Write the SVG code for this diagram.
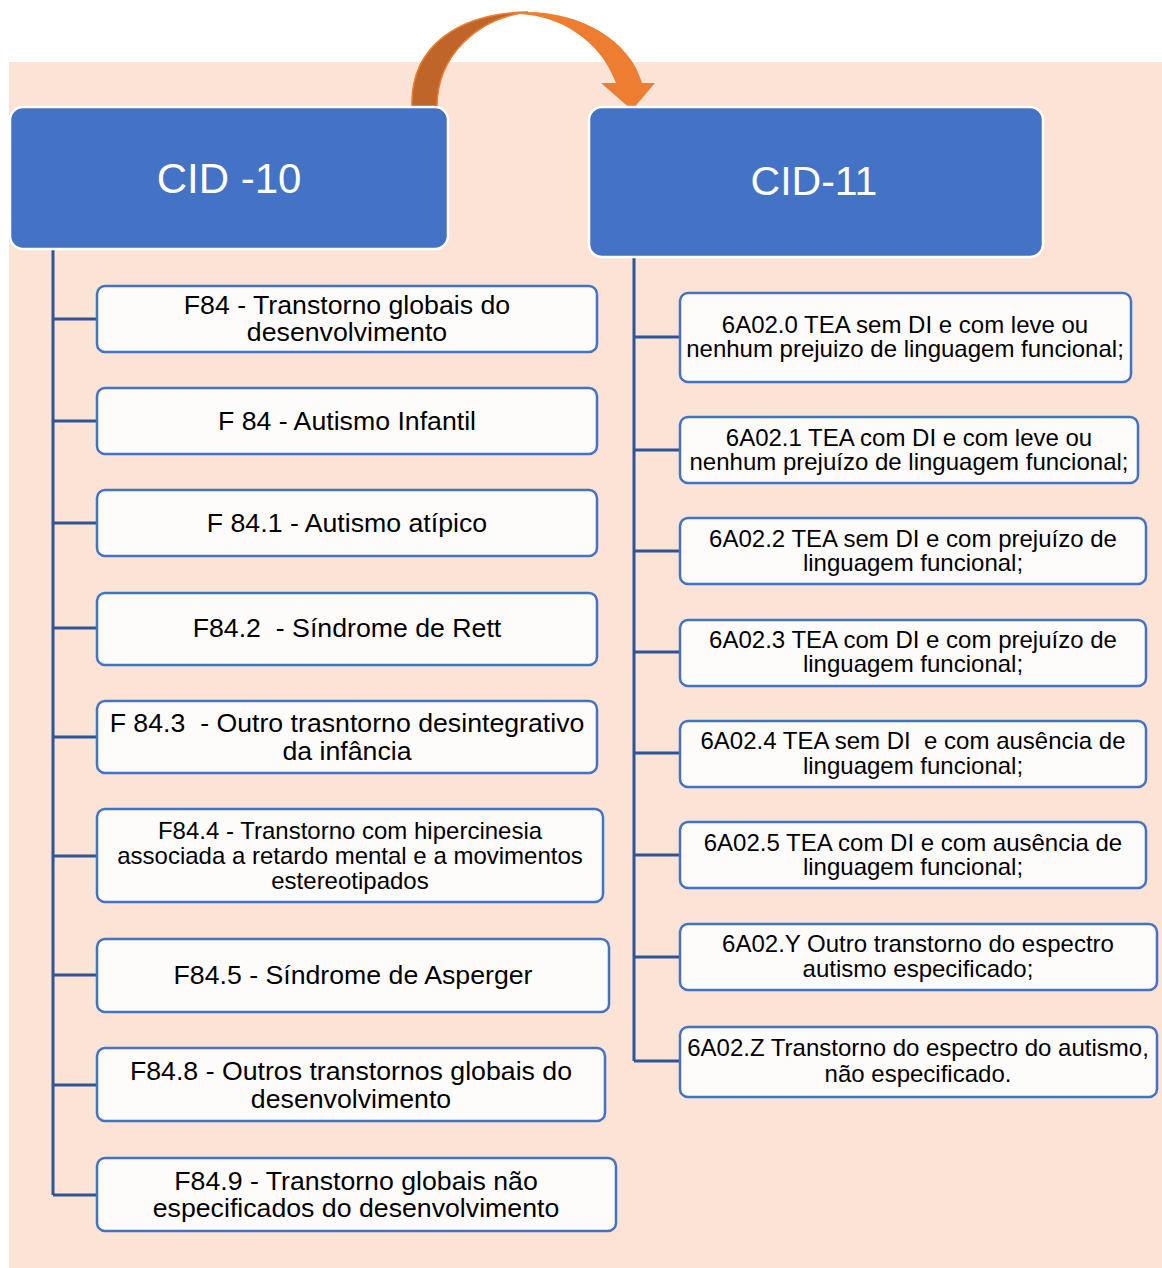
<svg xmlns="http://www.w3.org/2000/svg" width="1162" height="1268" viewBox="0 0 1162 1268">
<style>
.bg{fill:#FBE3D6}
.hdr{fill:#4472C4;stroke:#FFFFFF;stroke-width:2.5}
.hdrt{font-family:"Liberation Sans",Arial,sans-serif;fill:#FFFFFF;text-anchor:middle}
.nd{fill:#FEFCFB;stroke:#4472C4;stroke-width:2.5}
.t{font-family:"Liberation Sans",Arial,sans-serif;fill:#000000;text-anchor:middle}
.l{font-size:26.7px}
.s{font-size:24px}
.cn{fill:none;stroke:#2F5597;stroke-width:3}
</style>
<rect class="bg" x="9" y="62" width="1153" height="1206"/>
<g id="connectors">
<path class="cn" d="M53,249 V1195 M53,319 H97 M53,421 H97 M53,523 H97 M53,628 H97 M53,737 H97 M53,856 H97 M53,975 H97 M53,1085 H97 M53,1195 H97"/>
<path class="cn" d="M634,257 V1061 M634,337 H680 M634,450 H680 M634,551 H680 M634,652 H680 M634,753 H680 M634,855 H680 M634,957 H680 M634,1061 H680"/>
</g>
<g id="arrow">
<path d="M412,107 C410,45 460,13 528,12 C478,18 437,55 437,107 Z" fill="#C0652A" stroke="#ED7D31" stroke-width="1.5"/>
<path d="M520,12 C580,10 630,40 642,83 L655,83 L632,110 L601,83 L616,83 C600,40 560,16 520,14 Z" fill="#ED7D31"/>
</g>
<g id="cid10">
<rect class="hdr" x="10" y="107" width="438" height="142" rx="13"/>
<text class="hdrt" x="229" y="193" font-size="42">CID -10</text>
</g>
<g id="cid11">
<rect class="hdr" x="589" y="107" width="454" height="150" rx="13"/>
<text class="hdrt" x="814" y="195" font-size="41">CID-11</text>
</g>
<g id="f84">
<rect class="nd" x="97" y="286" width="500" height="66" rx="8"/>
<text class="t l" x="347" y="314">F84 - Transtorno globais do</text>
<text class="t l" x="347" y="341">desenvolvimento</text>
</g>
<g id="f84-autismo">
<rect class="nd" x="97" y="388" width="500" height="66" rx="8"/>
<text class="t l" x="347" y="430">F 84 - Autismo Infantil</text>
</g>
<g id="f841">
<rect class="nd" x="97" y="490" width="500" height="66" rx="8"/>
<text class="t l" x="347" y="532">F 84.1 - Autismo atípico</text>
</g>
<g id="f842">
<rect class="nd" x="97" y="593" width="500" height="72" rx="8"/>
<text class="t l" x="347" y="637" xml:space="preserve">F84.2  - Síndrome de Rett</text>
</g>
<g id="f843">
<rect class="nd" x="97" y="701" width="500" height="72" rx="8"/>
<text class="t l" x="347" y="732" xml:space="preserve">F 84.3  - Outro trasntorno desintegrativo</text>
<text class="t l" x="347" y="760">da infância</text>
</g>
<g id="f844">
<rect class="nd" x="97" y="809" width="506" height="93" rx="8"/>
<text class="t s" x="350" y="839">F84.4 - Transtorno com hipercinesia</text>
<text class="t s" x="350" y="864">associada a retardo mental e a movimentos</text>
<text class="t s" x="350" y="889">estereotipados</text>
</g>
<g id="f845">
<rect class="nd" x="97" y="939" width="512" height="73" rx="8"/>
<text class="t l" x="353" y="984">F84.5 - Síndrome de Asperger</text>
</g>
<g id="f848">
<rect class="nd" x="97" y="1048" width="508" height="73" rx="8"/>
<text class="t l" x="351" y="1080">F84.8 - Outros transtornos globais do</text>
<text class="t l" x="351" y="1108">desenvolvimento</text>
</g>
<g id="f849">
<rect class="nd" x="97" y="1158" width="519" height="73" rx="8"/>
<text class="t l" x="356" y="1190">F84.9 - Transtorno globais não</text>
<text class="t l" x="356" y="1217">especificados do desenvolvimento</text>
</g>
<g id="a020">
<rect class="nd" x="680" y="293" width="451" height="89" rx="8"/>
<text class="t s" x="905" y="333">6A02.0 TEA sem DI e com leve ou</text>
<text class="t s" x="905" y="357">nenhum prejuizo de linguagem funcional;</text>
</g>
<g id="a021">
<rect class="nd" x="680" y="417" width="458" height="66" rx="8"/>
<text class="t s" x="909" y="446">6A02.1 TEA com DI e com leve ou</text>
<text class="t s" x="909" y="470">nenhum prejuízo de linguagem funcional;</text>
</g>
<g id="a022">
<rect class="nd" x="680" y="518" width="466" height="66" rx="8"/>
<text class="t s" x="913" y="547">6A02.2 TEA sem DI e com prejuízo de</text>
<text class="t s" x="913" y="571">linguagem funcional;</text>
</g>
<g id="a023">
<rect class="nd" x="680" y="620" width="466" height="66" rx="8"/>
<text class="t s" x="913" y="648">6A02.3 TEA com DI e com prejuízo de</text>
<text class="t s" x="913" y="672">linguagem funcional;</text>
</g>
<g id="a024">
<rect class="nd" x="680" y="721" width="466" height="66" rx="8"/>
<text class="t s" x="913" y="749" xml:space="preserve">6A02.4 TEA sem DI  e com ausência de</text>
<text class="t s" x="913" y="774">linguagem funcional;</text>
</g>
<g id="a025">
<rect class="nd" x="680" y="822" width="466" height="66" rx="8"/>
<text class="t s" x="913" y="851">6A02.5 TEA com DI e com ausência de</text>
<text class="t s" x="913" y="875">linguagem funcional;</text>
</g>
<g id="a02y">
<rect class="nd" x="680" y="924" width="477" height="66" rx="8"/>
<text class="t s" x="918" y="952">6A02.Y Outro transtorno do espectro</text>
<text class="t s" x="918" y="977">autismo especificado;</text>
</g>
<g id="a02z">
<rect class="nd" x="680" y="1027" width="477" height="70" rx="8"/>
<text class="t s" x="918" y="1056">6A02.Z Transtorno do espectro do autismo,</text>
<text class="t s" x="918" y="1082">não especificado.</text>
</g>
</svg>
